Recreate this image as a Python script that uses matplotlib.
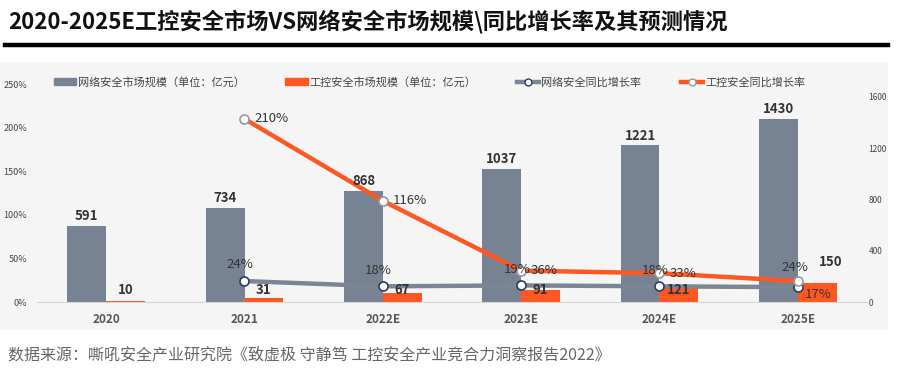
import matplotlib.pyplot as plt
import matplotlib.patches as mpatches
from matplotlib.lines import Line2D
import numpy as np

plt.rcParams['font.family'] = ['Noto Sans CJK SC', 'DejaVu Sans']

# ---- data ----
years = ['2020', '2021', '2022E', '2023E', '2024E', '2025E']
net_size = [591, 734, 868, 1037, 1221, 1430]
ics_size = [10, 31, 67, 91, 121, 150]
net_growth = [None, 0.24, 0.18, 0.19, 0.18, 0.17]
ics_growth = [None, 2.10, 1.16, 0.36, 0.33, 0.24]

GREY = '#778292'
ORANGE = '#ff5722'
TXT = '#333333'

fig = plt.figure(figsize=(9.15, 3.72), dpi=100)

# title + rule
fig.text(8 / 915, 1 - 22 / 372, '2020-2025E工控安全市场VS网络安全市场规模\\同比增长率及其预测情况',
         fontsize=16, fontweight='bold', va='center', ha='left', color='#111111')
fig.add_artist(Line2D([5 / 915, 888 / 915], [1 - 45 / 372] * 2, color='black', lw=3.2))

# light patterned background area
fig.add_artist(mpatches.Rectangle((0, 1 - 330 / 372), 888 / 915, 268 / 372,
                                  transform=fig.transFigure, facecolor='#f5f5f5',
                                  edgecolor='none', zorder=0))

ax = fig.add_axes([37 / 915, 70 / 372, 830 / 915, 218 / 372])
ax.patch.set_alpha(0)
ax2 = ax.twinx()

x = np.arange(len(years))
w = 0.28

# bars on right axis
ax2.bar(x - w / 2, net_size, w, color=GREY, zorder=2)
ax2.bar(x + w / 2, ics_size, w, color=ORANGE, zorder=2)
ax2.set_ylim(0, 1700)
ax2.set_yticks([0, 400, 800, 1200, 1600])
ax2.tick_params(axis='y', length=0, labelsize=6, colors='#444444', pad=1)

# lines on left axis, drawn over bars
ax.set_zorder(ax2.get_zorder() + 1)
xl = x[1:]
ng = net_growth[1:]
ig = ics_growth[1:]
ax.plot(xl, ng, color='#7b8595', lw=3.2, marker='o', ms=6.5, mfc='white',
        mec='#2e3a66', mew=1.2, zorder=3)
ax.plot(xl, ig, color=ORANGE, lw=3.2, marker='o', ms=6.5, mfc='white',
        mec='#999999', mew=1.2, zorder=4)

# bar labels, put on the top axes so they sit above the lines
for i in range(len(years)):
    ax.annotate(str(net_size[i]), (x[i] - w / 2, net_size[i]), xycoords=ax2.transData,
                xytext=(0, 2), textcoords='offset points', ha='center', va='bottom',
                fontsize=9.5, fontweight='bold', color=TXT, zorder=7)
    if i == len(years) - 1:
        ax.annotate(str(ics_size[i]), (x[i] + w / 2, ics_size[i]), xycoords=ax2.transData,
                    xytext=(10, 10), textcoords='offset points', ha='center', va='bottom',
                    fontsize=9.5, fontweight='bold', color=TXT, zorder=7)
    else:
        # label sits at a fixed height just above the baseline, as in the source
        ax.text(x[i] + w / 2, 90, str(ics_size[i]), transform=ax2.transData,
                ha='center', va='center', fontsize=9.5, fontweight='bold', color=TXT, zorder=7)

for j, (xi, a, b) in enumerate(zip(xl, ng, ig)):
    last = j == len(xl) - 1
    if last:
        ax.annotate(f'{b:.0%}', (xi, b), xytext=(-2, 5), textcoords='offset points',
                    ha='center', va='bottom', fontsize=9.5, color=TXT, zorder=6)
        ax.annotate(f'{a:.0%}', (xi, a), xytext=(5, -5), textcoords='offset points',
                    ha='left', va='center', fontsize=9.5, color=TXT, zorder=6)
    else:
        ax.annotate(f'{a:.0%}', (xi, a), xytext=(-3, 7), textcoords='offset points',
                    ha='center', va='bottom', fontsize=9.5, color=TXT, zorder=6)
        ax.annotate(f'{b:.0%}', (xi, b), xytext=(7, 0), textcoords='offset points',
                    ha='left', va='center', fontsize=9.5, color=TXT, zorder=6)

ax.set_xlim(-0.5, len(years) - 0.5)
ax.set_ylim(0, 2.5)
ax.set_yticks([0, 0.5, 1.0, 1.5, 2.0, 2.5])
ax.set_yticklabels(['0%', '50%', '100%', '150%', '200%', '250%'])
ax.tick_params(axis='y', length=0, labelsize=6.5, colors='#444444', pad=7)
ax.set_xticks(x)
ax.set_xticklabels(years, fontsize=8.5, fontweight='bold', color='#555555')
ax.tick_params(axis='x', length=0, pad=8)
for a_ in (ax, ax2):
    for s in a_.spines.values():
        s.set_visible(False)
ax.spines['bottom'].set_visible(True)
ax.spines['bottom'].set_color('#d6d6d6')

handles = [
    mpatches.Patch(color=GREY, label='网络安全市场规模（单位：亿元）'),
    mpatches.Patch(color=ORANGE, label='工控安全市场规模（单位：亿元）'),
    Line2D([], [], color='#7b8595', lw=3.2, marker='o', ms=5, mfc='white', mec='#2e3a66',
           label='网络安全同比增长率'),
    Line2D([], [], color=ORANGE, lw=3.2, marker='o', ms=5, mfc='white', mec='#999999',
           label='工控安全同比增长率'),
]
fig.legend(handles=handles, loc='center left', bbox_to_anchor=(44 / 915, 1 - 82 / 372),
           ncol=4, frameon=False, fontsize=8, handlelength=2.0, handleheight=0.5,
           handletextpad=0.2, columnspacing=3.6, labelcolor='#444444')

fig.text(8 / 915, 1 - 355 / 372,
         '数据来源：嘶吼安全产业研究院《致虚极 守静笃 工控安全产业竞合力洞察报告2022》',
         fontsize=11.5, color='#666666', va='center', ha='left')

fig.savefig('out.png', dpi=100)
